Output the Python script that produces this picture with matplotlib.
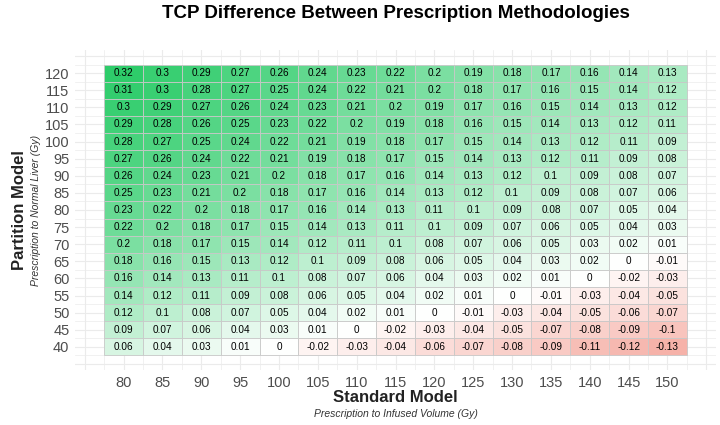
import numpy as np
import matplotlib
matplotlib.use("Agg")
import matplotlib.pyplot as plt
from matplotlib.colors import LinearSegmentedColormap, Normalize

plt.rcParams['font.family'] = ['Liberation Sans', 'DejaVu Sans']

standard = [80, 85, 90, 95, 100, 105, 110, 115, 120, 125, 130, 135, 140, 145, 150]
partition = [120, 115, 110, 105, 100, 95, 90, 85, 80, 75, 70, 65, 60, 55, 50, 45, 40]

r120 = [0.32, 0.3, 0.29, 0.27, 0.26, 0.24, 0.23, 0.22, 0.2, 0.19, 0.18, 0.17, 0.16, 0.14, 0.13]
r115 = [0.31, 0.3, 0.28, 0.27, 0.25, 0.24, 0.22, 0.21, 0.2, 0.18, 0.17, 0.16, 0.15, 0.14, 0.12]
r110 = [0.3, 0.29, 0.27, 0.26, 0.24, 0.23, 0.21, 0.2, 0.19, 0.17, 0.16, 0.15, 0.14, 0.13, 0.12]
r105 = [0.29, 0.28, 0.26, 0.25, 0.23, 0.22, 0.2, 0.19, 0.18, 0.16, 0.15, 0.14, 0.13, 0.12, 0.11]
r100 = [0.28, 0.27, 0.25, 0.24, 0.22, 0.21, 0.19, 0.18, 0.17, 0.15, 0.14, 0.13, 0.12, 0.11, 0.09]
r95 = [0.27, 0.26, 0.24, 0.22, 0.21, 0.19, 0.18, 0.17, 0.15, 0.14, 0.13, 0.12, 0.11, 0.09, 0.08]
r90 = [0.26, 0.24, 0.23, 0.21, 0.2, 0.18, 0.17, 0.16, 0.14, 0.13, 0.12, 0.1, 0.09, 0.08, 0.07]
r85 = [0.25, 0.23, 0.21, 0.2, 0.18, 0.17, 0.16, 0.14, 0.13, 0.12, 0.1, 0.09, 0.08, 0.07, 0.06]
r80 = [0.23, 0.22, 0.2, 0.18, 0.17, 0.16, 0.14, 0.13, 0.11, 0.1, 0.09, 0.08, 0.07, 0.05, 0.04]
r75 = [0.22, 0.2, 0.18, 0.17, 0.15, 0.14, 0.13, 0.11, 0.1, 0.09, 0.07, 0.06, 0.05, 0.04, 0.03]
r70 = [0.2, 0.18, 0.17, 0.15, 0.14, 0.12, 0.11, 0.1, 0.08, 0.07, 0.06, 0.05, 0.03, 0.02, 0.01]
r65 = [0.18, 0.16, 0.15, 0.13, 0.12, 0.1, 0.09, 0.08, 0.06, 0.05, 0.04, 0.03, 0.02, 0, -0.01]
r60 = [0.16, 0.14, 0.13, 0.11, 0.1, 0.08, 0.07, 0.06, 0.04, 0.03, 0.02, 0.01, 0, -0.02, -0.03]
r55 = [0.14, 0.12, 0.11, 0.09, 0.08, 0.06, 0.05, 0.04, 0.02, 0.01, 0, -0.01, -0.03, -0.04, -0.05]
r50 = [0.12, 0.1, 0.08, 0.07, 0.05, 0.04, 0.02, 0.01, 0, -0.01, -0.03, -0.04, -0.05, -0.06, -0.07]
r45 = [0.09, 0.07, 0.06, 0.04, 0.03, 0.01, 0, -0.02, -0.03, -0.04, -0.05, -0.07, -0.08, -0.09, -0.1]
r40 = [0.06, 0.04, 0.03, 0.01, 0, -0.02, -0.03, -0.04, -0.06, -0.07, -0.08, -0.09, -0.11, -0.12, -0.13]

rows = [r120, r115, r110, r105, r100, r95, r90, r85, r80, r75, r70, r65, r60, r55, r50, r45, r40]
Z = np.array(rows)

cmap = LinearSegmentedColormap.from_list('rwg', ['#E8402A', '#FFFFFF', '#2ECC6A'])
lim = np.abs(Z).max()
norm = Normalize(vmin=-lim, vmax=lim)

fig = plt.figure(figsize=(7.2, 4.25), dpi=100)
L, R = 75, 716
ax = fig.add_axes([L/720, 1 - 370/425, (R-L)/720, (370-50)/425])

step = 5
# grid
for v in np.arange(75, 160, 2.5):
    ax.axvline(v, color='#ebebeb', lw=0.8 if v % 5 == 0 else 0.5, zorder=0)
for v in np.arange(32.5, 130, 2.5):
    ax.axhline(v, color='#ebebeb', lw=0.8 if v % 5 == 0 else 0.5, zorder=0)

for i, yv in enumerate(partition):
    for j, xv in enumerate(standard):
        val = Z[i, j]
        ax.add_patch(plt.Rectangle((xv - step/2, yv - step/2), step, step,
                                   facecolor=cmap(norm(val)), edgecolor='#c8c8c8',
                                   lw=0.6, zorder=1))
        ax.text(xv, yv, f"{val:g}", ha='center', va='center', fontsize=7.2,
                color='black', zorder=2)

ax.set_xlim(73.75, 156.25)
ax.set_ylim(33.25, 126.75)
ax.set_xticks(standard)
ax.set_yticks(partition)
ax.tick_params(length=0, labelsize=10.5, labelcolor='#4d4d4d', pad=4)
for s in ax.spines.values():
    s.set_visible(False)

cx = (L + R) / 2 / 720
fig.text(cx, 1 - 13/425, 'TCP Difference Between Prescription Methodologies',
         ha='center', va='center', fontsize=13.5, fontweight='bold', color='black')
fig.text(cx, 1 - 398/425, 'Standard Model', ha='center', va='center',
         fontsize=12, fontweight='bold', color='#222222')
fig.text(cx, 1 - 414/425, 'Prescription to Infused Volume (Gy)', ha='center',
         va='center', fontsize=7.5, style='italic', color='#333333')
fig.text(20/720, 1 - 210/425, 'Partition Model', ha='center', va='center',
         rotation=90, fontsize=12, fontweight='bold', color='#222222')
fig.text(36/720, 1 - 210/425, 'Prescription to Normal Liver (Gy)', ha='center',
         va='center', rotation=90, fontsize=7.5, style='italic', color='#333333')

fig.savefig('out.png', dpi=100)
